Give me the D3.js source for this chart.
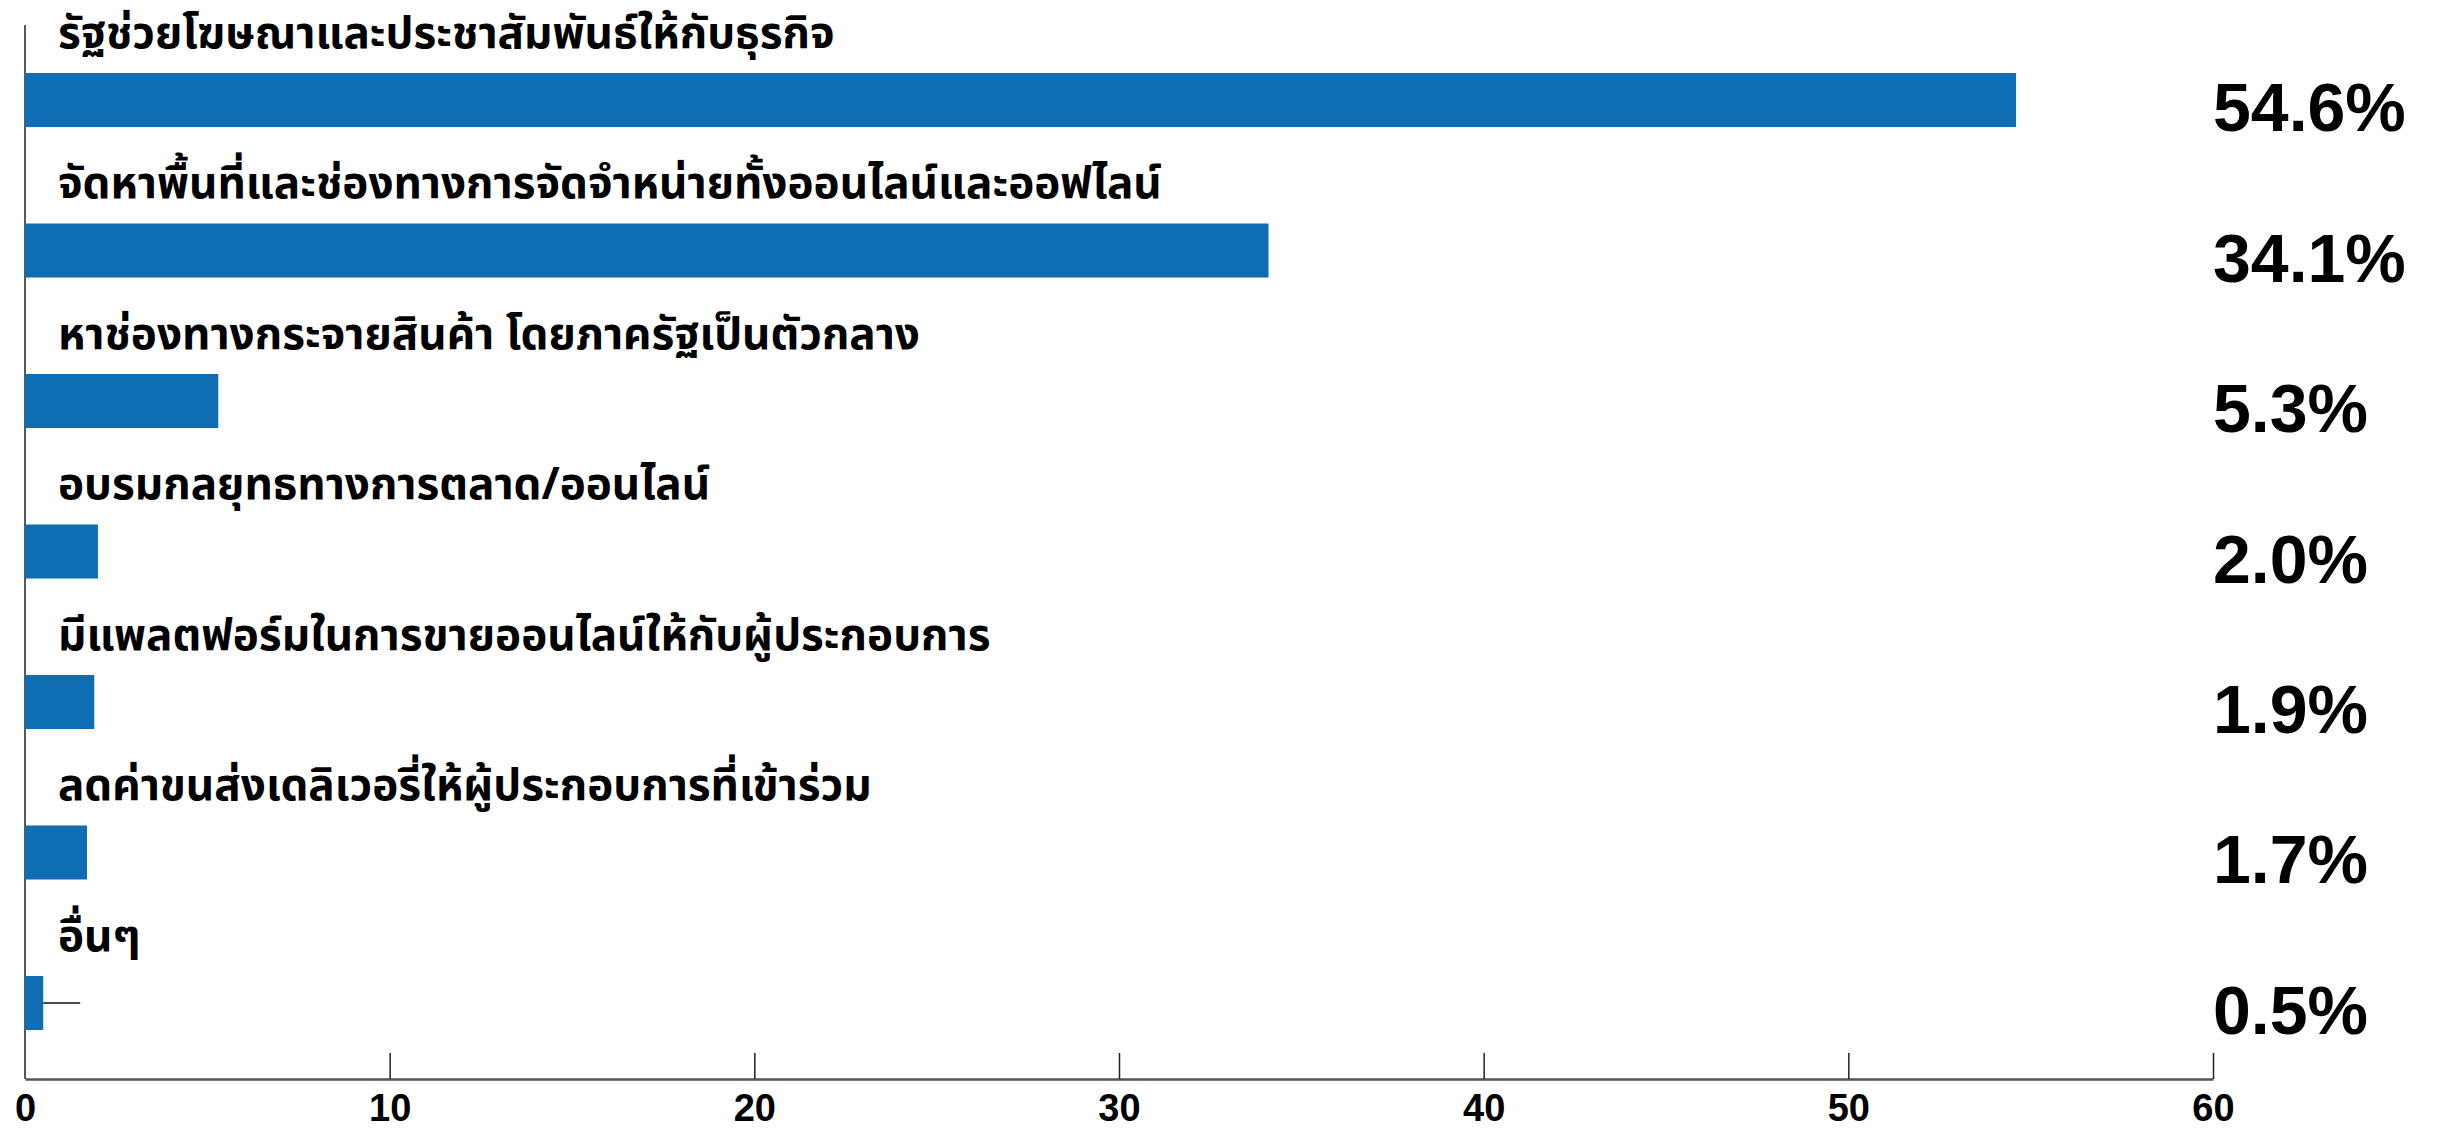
<!DOCTYPE html>
<html><head><meta charset="utf-8">
<script src="https://cdn.jsdelivr.net/npm/d3@7"></script>
<style>
html,body{margin:0;padding:0;background:#fff;}
svg{display:block;}
</style></head>
<body>
<svg id="chart" width="2441" height="1130"></svg>
<script>
const categories = [
  "รัฐช่วยโฆษณาและประชาสัมพันธ์ให้กับธุรกิจ",
  "จัดหาพื้นที่และช่องทางการจัดจำหน่ายทั้งออนไลน์และออฟไลน์",
  "หาช่องทางกระจายสินค้า โดยภาครัฐเป็นตัวกลาง",
  "อบรมกลยุทธทางการตลาด/ออนไลน์",
  "มีแพลตฟอร์มในการขายออนไลน์ให้กับผู้ประกอบการ",
  "ลดค่าขนส่งเดลิเวอรี่ให้ผู้ประกอบการที่เข้าร่วม",
  "อื่นๆ"
];
const values = [54.6, 34.1, 5.3, 2.0, 1.9, 1.7, 0.5];
const valueLabels = ["54.6%", "34.1%", "5.3%", "2.0%", "1.9%", "1.7%", "0.5%"];
const tickValues = [0, 10, 20, 30, 40, 50, 60];

const svg = d3.select("#chart");
const x = d3.scaleLinear().domain([0, 60]).range([25, 2213]);
const y = d3.scaleBand().domain(categories).range([73, 1030]).paddingInner(0.641).paddingOuter(0);
const baseY = 1079;

// y axis line
svg.append("line").attr("x1", x(0)).attr("x2", x(0)).attr("y1", 25).attr("y2", baseY)
  .attr("stroke", "#222").attr("stroke-width", 1.5);

// bars
svg.selectAll("rect.bar").data(categories).join("rect").attr("class","bar")
  .attr("x", x(0)).attr("y", d => y(d))
  .attr("width", (d,i) => x(values[i]) - x(0))
  .attr("height", y.bandwidth())
  .attr("fill", "#0f6db3");

// leader line on last bar
const last = categories.length - 1;
svg.append("line")
  .attr("x1", x(values[last])).attr("x2", x(values[last]) + 37)
  .attr("y1", y(categories[last]) + y.bandwidth()/2).attr("y2", y(categories[last]) + y.bandwidth()/2)
  .attr("stroke", "#111").attr("stroke-width", 1.5);

// category labels
svg.selectAll("text.cat").data(categories).join("text").attr("class","cat")
  .attr("x", 58).attr("y", d => y(d) - 25)
  .attr("font-family", "'Noto Sans Thai','Noto Sans',sans-serif")
  .attr("font-weight", "bold").attr("font-size", 44).attr("fill", "#000")
  .text(d => d);

// value labels
svg.selectAll("text.val").data(categories).join("text").attr("class","val")
  .attr("x", x(60)).attr("y", d => y(d) + y.bandwidth()/2 + 31)
  .attr("font-family", "'Liberation Sans', Arial, sans-serif")
  .attr("font-weight", "bold").attr("font-size", 68).attr("fill", "#000")
  .text((d,i) => valueLabels[i]);

// x axis
const axis = d3.axisBottom(x).tickValues(tickValues).tickSize(0).tickFormat(d3.format("d"));
const g = svg.append("g").attr("transform", `translate(0,${baseY})`).call(axis);
g.select(".domain").attr("stroke", "#555").attr("stroke-width", 2.5);
g.selectAll(".tick line").attr("y2", -26).attr("stroke", "#222").attr("stroke-width", 1.5);
g.selectAll(".tick").filter(d => d === 0).select("line").remove();
g.selectAll(".tick text")
  .attr("y", 42).attr("dy", 0)
  .attr("font-family", "'Liberation Sans Narrow','Liberation Sans',Arial,sans-serif")
  .attr("font-weight", "bold").attr("font-size", 38).attr("fill", "#000");
</script>
</body></html>
